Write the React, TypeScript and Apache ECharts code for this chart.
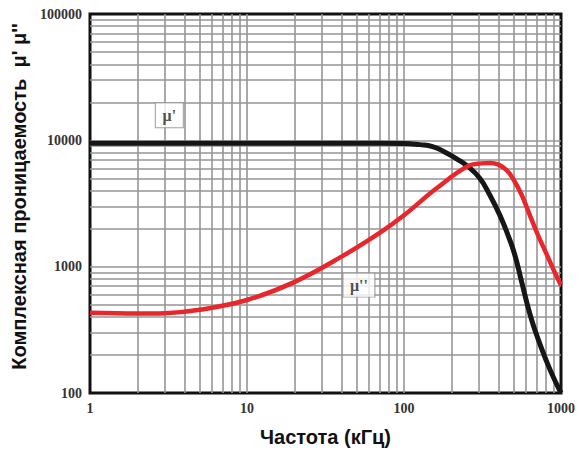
import React, { useEffect, useRef } from "react";
import * as echarts from "echarts";

const xRange = [1, 1000];
const yRange = [100, 100000];
const xTickLabels = ["1", "10", "100", "1000"];
const yTickLabels = ["100", "1000", "10000", "100000"];
const gridMultipliers = [1, 2, 3, 4, 5, 6, 7, 8, 9];
const xDecades = [1, 10, 100];
const yDecades = [100, 1000, 10000];

// μ' (real part)
const muRealFreq = [1, 10, 50, 100, 126, 152, 179, 214, 255, 304, 352, 407, 458, 507, 562, 641, 743, 859, 1000];
const muRealVal = [9500, 9500, 9500, 9450, 9250, 8930, 8160, 7190, 6220, 5010, 3690, 2570, 1794, 1250, 755, 402, 234, 149, 100];

// μ'' (imaginary part)
const muImagFreq = [1, 2, 3, 5, 10, 20, 40, 70, 100, 162, 262, 310, 352, 400, 450, 493, 562, 632, 711, 811, 912, 1000];
const muImagVal = [431, 425, 428, 456, 545, 755, 1200, 1850, 2550, 4190, 6340, 6570, 6620, 6420, 5800, 5010, 3690, 2570, 1794, 1250, 904, 714];

const labelReal = { text: "μ'", x: 3.2, y: 15800 };
const labelImag = { text: "μ''", x: 51.6, y: 714 };

const xName = "Частота (кГц)";
const yName = "Комплексная проницаемость  μ' μ''";

export default function App() {
  const ref = useRef<HTMLDivElement>(null);
  useEffect(() => {
    if (!ref.current) return;
    const chart = echarts.init(ref.current, undefined, { renderer: "svg" });
    const gridX: number[] = [];
    xDecades.forEach((d) => gridMultipliers.forEach((m) => {
      const v = d * m;
      if (v > xRange[0] && v < xRange[1]) gridX.push(v);
    }));
    const gridY: number[] = [];
    yDecades.forEach((d) => gridMultipliers.forEach((m) => {
      const v = d * m;
      if (v > yRange[0] && v < yRange[1]) gridY.push(v);
    }));
    const fmt = (labels: string[]) => (v: number) => {
      const s = String(Math.round(v));
      return labels.includes(s) ? s : "";
    };
    const tickFont = {
      fontFamily: "Liberation Serif",
      fontWeight: "bold" as const,
      fontSize: 14,
      color: "#333",
    };
    const boxLabel = (w: number, h: number) => ({
      symbol: "rect",
      symbolSize: [w, h],
      itemStyle: { color: "#fff", borderColor: "#888", borderWidth: 1 },
      label: {
        show: true,
        position: "inside",
        formatter: (p: any) => p.value[2],
        fontFamily: "Liberation Serif",
        fontWeight: "bold",
        fontSize: 16,
        color: "#222",
      },
    });
    chart.setOption({
      animation: false,
      backgroundColor: "#fff",
      grid: {
        left: 90,
        right: 18,
        top: 14,
        bottom: 55,
        show: true,
        borderColor: "#111",
        borderWidth: 3,
        backgroundColor: "#fff",
      },
      xAxis: {
        type: "log",
        logBase: 10,
        min: xRange[0],
        max: xRange[1],
        axisLine: { show: false },
        axisTick: { show: false },
        splitLine: { show: false },
        axisLabel: { ...tickFont, margin: 8, formatter: fmt(xTickLabels) },
        name: xName,
        nameLocation: "middle",
        nameGap: 34,
        nameTextStyle: {
          fontFamily: "Liberation Sans",
          fontWeight: "bold",
          fontSize: 20,
          color: "#111",
        },
      },
      yAxis: {
        type: "log",
        logBase: 10,
        min: yRange[0],
        max: yRange[1],
        axisLine: { show: false },
        axisTick: { show: false },
        splitLine: { show: false },
        axisLabel: { ...tickFont, margin: 8, formatter: fmt(yTickLabels) },
        name: yName,
        nameLocation: "middle",
        nameGap: 60,
        nameTextStyle: {
          fontFamily: "Liberation Sans",
          fontWeight: "bold",
          fontSize: 20,
          color: "#111",
          padding: [0, 0, 0, 14],
        },
      },
      series: [
        {
          type: "line",
          data: [[xRange[0], yRange[0]]],
          showSymbol: false,
          symbol: "none",
          lineStyle: { opacity: 0 },
          silent: true,
          z: 1,
          markLine: {
            silent: true,
            z: 1,
            symbol: ["none", "none"],
            label: { show: false },
            lineStyle: { color: "#959595", width: 1.6, type: "solid" },
            data: [
              ...gridX.map((v) => ({ xAxis: v })),
              ...gridY.map((v) => ({ yAxis: v })),
            ],
          },
        },
        {
          type: "line",
          name: "mu-real",
          data: muRealFreq.map((f, i) => [f, muRealVal[i]]),
          smooth: 0.5,
          showSymbol: false,
          symbol: "none",
          lineStyle: { color: "#161616", width: 5 },
          z: 3,
        },
        {
          type: "line",
          name: "mu-imag",
          data: muImagFreq.map((f, i) => [f, muImagVal[i]]),
          smooth: 0.4,
          showSymbol: false,
          symbol: "none",
          lineStyle: { color: "#e8262b", width: 4.5 },
          z: 4,
        },
        {
          type: "scatter",
          data: [[labelReal.x, labelReal.y, labelReal.text]],
          ...boxLabel(28, 25),
          z: 5,
        },
        {
          type: "scatter",
          data: [[labelImag.x, labelImag.y, labelImag.text]],
          ...boxLabel(32, 24),
          z: 5,
        },
      ],
    });
    return () => chart.dispose();
  }, []);
  return (
    <div
      ref={ref}
      style={{ position: "fixed", left: 0, top: 0, width: 579, height: 452, background: "#fff" }}
    />
  );
}
